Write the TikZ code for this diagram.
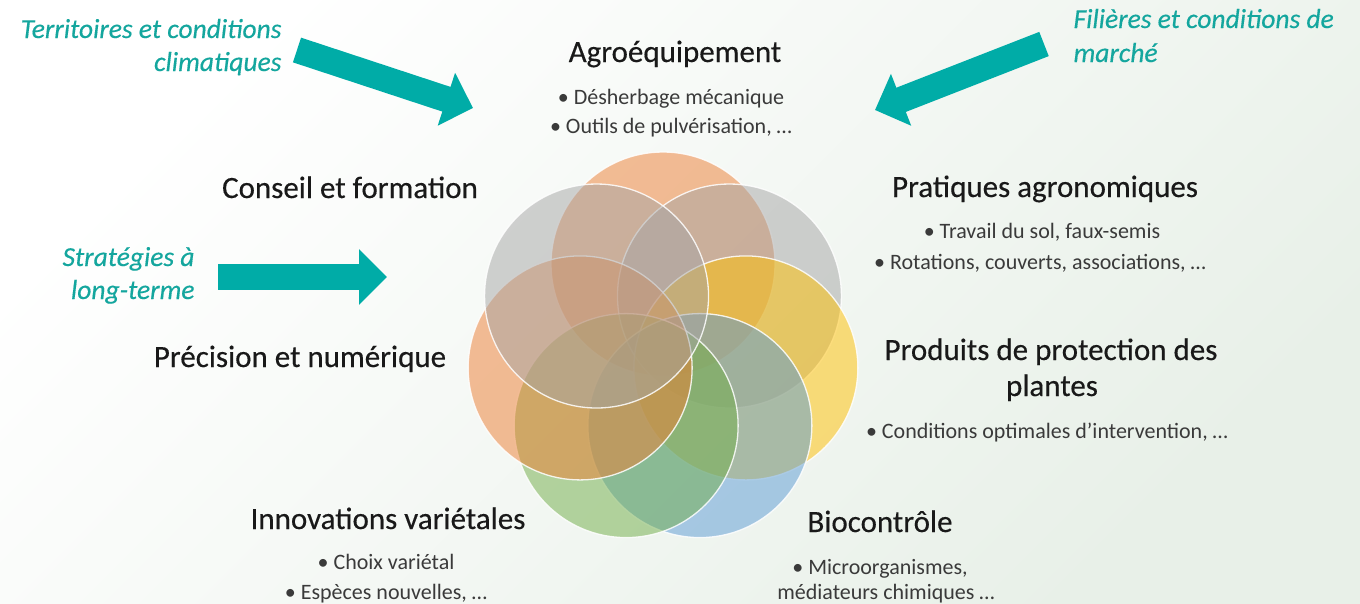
\documentclass[tikz,border=0pt]{standalone}
\usepackage{fontspec}
\setmainfont{Carlito}
\newfontfamily\headfont{Carlito}[FakeBold = 0.35]
\usetikzlibrary{arrows.meta}

\definecolor{accOrange}{HTML}{ED7D31}
\definecolor{accGray}{HTML}{A5A5A5}
\definecolor{accGold}{HTML}{FFC000}
\definecolor{accBlue}{HTML}{5B9BD5}
\definecolor{accGreen}{HTML}{70AD47}
\definecolor{arrowTeal}{RGB}{0,172,167}
\definecolor{labelTeal}{RGB}{20,166,158}
\definecolor{detailGray}{RGB}{58,58,58}
\definecolor{bgEnd}{RGB}{232,240,232}

\tikzset{
	petal/.style = {circle, minimum size = 224pt, inner sep = 0pt, fill opacity = 0.5,
		draw = white, draw opacity = 0.85, line width = 1.3pt},
	heading/.style = {anchor = base, font = \headfont\fontsize{31}{36}\selectfont, text = black!90},
	detail/.style = {anchor = base, font = \fontsize{22}{26}\selectfont, text = detailGray},
	driver/.style = {font = \headfont\itshape\fontsize{27.5}{32}\selectfont, text = labelTeal},
	push/.style = {draw = arrowTeal, line width = 26pt, -{Triangle[length = 28pt, width = 54pt]}}
}

\begin{document}
\begin{tikzpicture}[x = 1pt, y = -1pt]

	% Backdrop
	
	\shade [top color = white, bottom color = bgEnd, shading angle = 45] (0, 0) rectangle (1360, 603);
	\useasboundingbox (0, 0) rectangle (1360, 603);
	
	% Seven overlapping petals
	
	\coordinate (hub) at (663, 349);
	\foreach \ang/\col [count = \i] in {-90/accOrange, -38.57/accGray, 12.86/accGold, 64.29/accBlue, 115.71/accGreen, 167.14/accOrange, -141.43/accGray}
		\node [petal, fill = \col] (petal\i) at ([shift = {(\ang:85)}] hub) {};
	
	% Levers round the petals
	
	\node [heading] (agro) at (675, 62) {Agroéquipement};
	\node [detail] (agroA) at (671, 104) {• Désherbage mécanique};
	\node [detail] (agroB) at (671, 133) {• Outils de pulvérisation, …};
	
	\node [heading] (pratiques) at (1045, 197) {Pratiques agronomiques};
	\node [detail] (pratiquesA) at (1042, 238) {• Travail du sol, faux-semis};
	\node [detail] (pratiquesB) at (1040, 269) {• Rotations, couverts, associations, …};
	
	\node [heading] (produits) at (1051, 360) {Produits de protection des};
	\node [heading] (produitsB) at (1052, 396) {plantes};
	\node [detail] (produitsA) at (1047, 438) {• Conditions optimales d’intervention, …};
	
	\node [heading] (bio) at (880, 532) {Biocontrôle};
	\node [detail] (bioA) at (880, 574) {• Microorganismes,};
	\node [detail] (bioB) at (886, 599) {médiateurs chimiques …};
	
	\node [heading] (variet) at (388, 529) {Innovations variétales};
	\node [detail] (varietA) at (386, 569) {• Choix variétal};
	\node [detail] (varietB) at (386, 599) {• Espèces nouvelles, …};
	
	\node [heading] (precision) at (300, 367) {Précision et numérique};
	\node [heading] (conseil) at (350, 198) {Conseil et formation};
	
	% Outside drivers w arrows
	
	\node [driver, anchor = base east] (terr) at (285, 38) {Territoires et conditions};
	\node [driver, anchor = base east] (terrB) at (285, 71) {climatiques};
	\coordinate (terrTail) at (297, 50);
	\coordinate (terrTip) at (473, 108);
	\draw [push] (terrTail) -- (terrTip);
	
	\node [driver, anchor = base west] (fil) at (1070, 28) {Filières et conditions de};
	\node [driver, anchor = base west] (filB) at (1070, 62) {marché};
	\coordinate (filTail) at (1044, 44);
	\coordinate (filTip) at (875, 110);
	\draw [push] (filTail) -- (filTip);
	
	\node [driver, anchor = base east] (strat) at (198, 266) {Stratégies à};
	\node [driver, anchor = base east] (stratB) at (198, 299) {long-terme};
	\coordinate (stratTail) at (218, 277);
	\coordinate (stratTip) at (387, 277);
	\draw [push] (stratTail) -- (stratTip);

\end{tikzpicture}
\end{document}
